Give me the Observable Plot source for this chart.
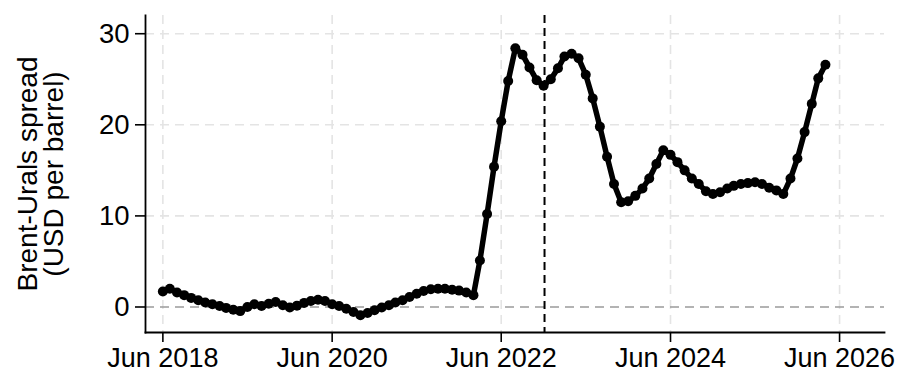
<!DOCTYPE html>
<html>
<head>
<meta charset="utf-8">
<script src="https://cdn.jsdelivr.net/npm/d3@7"></script>
<script src="https://cdn.jsdelivr.net/npm/@observablehq/plot@0.6"></script>
<style>
  html, body { margin: 0; padding: 0; background: #fff; }
  #chart svg { display: block; }
  #chart [aria-label="x-axis tick"], #chart [aria-label="y-axis tick"] { stroke-width: 1.6px; }
  #chart [aria-label="frame"] { stroke-width: 1.8px; }
</style>
</head>
<body>
<div id="chart"></div>
<script>
// Monthly Brent-Urals spread, USD per barrel, starting June 2018
const firstMonth = "2018-06-01";
const spread = [
  1.7, 2.0, 1.6, 1.3, 1.0, 0.75, 0.5,                                 // 2018 Jun-Dec
  0.3, 0.1, -0.1, -0.3, -0.45, 0.0, 0.3, 0.1, 0.35, 0.55, 0.2, -0.05,  // 2019
  0.15, 0.45, 0.65, 0.8, 0.65, 0.3, 0.1, -0.2, -0.55, -0.9, -0.65, -0.35, // 2020
  -0.05, 0.2, 0.5, 0.75, 1.1, 1.45, 1.75, 1.95, 2.0, 2.0, 1.9, 1.8,    // 2021
  1.6, 1.3, 5.1, 10.2, 15.4, 20.4, 24.8, 28.4, 27.7, 26.3, 24.9, 24.3, // 2022
  25.0, 26.2, 27.5, 27.8, 27.3, 25.5, 22.9, 19.8, 16.5, 13.5, 11.5, 11.6, // 2023
  12.2, 13.0, 14.1, 15.7, 17.2, 16.7, 15.9, 15.0, 14.1, 13.5, 12.7, 12.4, // 2024
  12.6, 13.0, 13.3, 13.5, 13.6, 13.7, 13.5, 13.1, 12.8, 12.4, 14.1, 16.3, // 2025
  19.2, 22.3, 25.1, 26.6                                               // 2026 Jan-Apr
];

// Date marked by the vertical dashed line (G7 price cap, December 2022)
const priceCapDate = "2022-12-05";

const yTicks = [0, 10, 20, 30];
const xTickDates = ["2018-06-01", "2020-06-01", "2022-06-01", "2024-06-01", "2026-06-01"];
const yLabelLines = ["Brent-Urals spread", "(USD per barrel)"];

const start = new Date(firstMonth);
const data = spread.map((value, i) => ({ date: d3.utcMonth.offset(start, i), value }));
const xTicks = xTickDates.map(d => new Date(d));

const gridStyle = { stroke: "#e4e4e4", strokeOpacity: 1, strokeWidth: 1.6, strokeDasharray: "9,6" };

const chart = Plot.plot({
  width: 897,
  height: 374,
  marginLeft: 145,
  marginRight: 13,
  marginTop: 15,
  marginBottom: 42,
  style: {
    fontFamily: "'Liberation Sans', Arial, Helvetica, sans-serif",
    color: "#000",
    background: "#fff",
    overflow: "visible"
  },
  x: {
    type: "utc",
    domain: [new Date("2018-03-18"), new Date("2026-12-12")]
  },
  y: {
    domain: [-2.8, 32]
  },
  marks: [
    Plot.gridX(xTicks, gridStyle),
    Plot.gridY(yTicks.filter(d => d !== 0), gridStyle),
    Plot.ruleY([0], { stroke: "#9a9a9a", strokeWidth: 1.6, strokeDasharray: "9,6" }),
    Plot.ruleX([new Date(priceCapDate)], { stroke: "#000", strokeWidth: 2, strokeDasharray: "8,5" }),
    Plot.line(data, { x: "date", y: "value", stroke: "#000", strokeWidth: 5.5, strokeLinejoin: "round" }),
    Plot.dot(data, { x: "date", y: "value", r: 5, fill: "#000", stroke: "none" }),
    Plot.axisX(xTicks, {
      tickFormat: d3.utcFormat("%b %Y"),
      tickSize: 10,
      tickPadding: 5,
      fontSize: 27,
      label: null
    }),
    Plot.axisY(yTicks, {
      tickSize: 10,
      tickPadding: 6,
      fontSize: 27.5,
      label: null
    }),
    Plot.frame({ anchor: "left" }),
    Plot.frame({ anchor: "bottom" }),
    Plot.text([yLabelLines.join("\n")], {
      frameAnchor: "left",
      textAnchor: "middle",
      lineAnchor: "middle",
      rotate: -90,
      dx: -104,
      fontSize: 28,
      lineHeight: 0.95,
      fill: "#000"
    })
  ]
});

document.getElementById("chart").append(chart);
</script>
</body>
</html>
